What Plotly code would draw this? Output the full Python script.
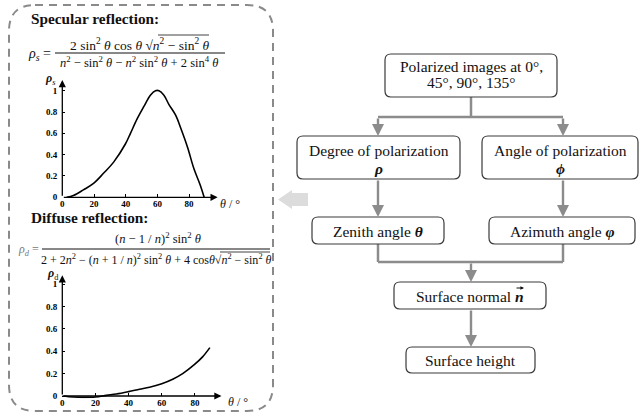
import plotly.graph_objects as go

W, H = 641, 418
SERIF = "Liberation Serif"

# ---- data ----
theta_s = [2.75, 7, 13.3, 19.7, 26, 32.4, 39.8, 43, 47.2, 51.4, 55.7, 58.8, 61, 64, 67.3, 71.5, 74.7, 79, 83, 87, 89.5]
rho_s = [0, 0.016, 0.069, 0.13, 0.225, 0.33, 0.5, 0.6, 0.735, 0.85, 0.96, 1.0, 1.0, 0.96, 0.87, 0.77, 0.65, 0.47, 0.27, 0.116, 0]
theta_d = [0, 6.6, 12.6, 20, 26.6, 32.6, 40, 46.6, 52.6, 60, 66.6, 72.6, 79.6, 84.6, 89]
rho_d = [0, -0.009, -0.012, -0.009, 0.006, 0.018, 0.039, 0.06, 0.078, 0.11, 0.15, 0.2, 0.28, 0.35, 0.433]
x_ticks = [0, 20, 40, 60, 80]
y_ticks = [0, 0.2, 0.4, 0.6, 0.8, 1]
y_tick_labels = ["0", "0.2", "0.4", "0.6", "0.8", "1"]


def X(px):
    return px / W


def Y(py):
    return 1 - py / H


fig = go.Figure()
fig.add_trace(go.Scatter(x=theta_s, y=rho_s, mode="lines", line=dict(color="black", width=1.6, shape="spline"),
                         xaxis="x", yaxis="y", showlegend=False, hoverinfo="skip"))
fig.add_trace(go.Scatter(x=theta_d, y=rho_d, mode="lines", line=dict(color="black", width=1.6, shape="spline"),
                         xaxis="x2", yaxis="y2", showlegend=False, hoverinfo="skip"))

# plot 1 geometry (pixels)
p1_x0, p1_xs = 62.3, 1.585
p1_y0, p1_ys = 197.3, 106.6
p1_xr = [0, 98]
p1_yr = [0, 1.1]
# plot 2 geometry
p2_x0, p2_xs = 62.3, 1.658
p2_y0, p2_ys = 396.0, 111.7
p2_xr = [0, 96]
p2_yr = [-0.02, 1.08]

tickfont = dict(family=SERIF, size=9, color="black", weight="bold")


def axes(x0, xs, y0, ys, xr, yr):
    xd = [X(x0 + xr[0] * xs), X(x0 + xr[1] * xs)]
    yd = [Y(y0 - yr[0] * ys), Y(y0 - yr[1] * ys)]
    xa = dict(range=xr, domain=xd, anchor="free", position=Y(y0), showgrid=False, zeroline=False,
              showline=False, ticks="inside", ticklen=3, tickwidth=1, tickcolor="black", automargin=False,
              tickvals=x_ticks, ticktext=[str(v) for v in x_ticks], tickfont=tickfont)
    ya = dict(range=yr, domain=yd, showgrid=False, zeroline=False, showline=False, automargin=False,
              ticks="inside", ticklen=3, tickwidth=1, tickcolor="black",
              tickvals=y_ticks, ticktext=y_tick_labels, tickfont=tickfont, ticklabelstandoff=4)
    return xa, ya


xa1, ya1 = axes(p1_x0, p1_xs, p1_y0, p1_ys, p1_xr, p1_yr)
xa2, ya2 = axes(p2_x0, p2_xs, p2_y0, p2_ys, p2_xr, p2_yr)
ya1["anchor"] = "x"
ya2["anchor"] = "x2"

fig.update_layout(
    template="none",
    width=W, height=H, margin=dict(l=0, r=0, t=0, b=0, pad=0, autoexpand=False),
    paper_bgcolor="white", plot_bgcolor="rgba(0,0,0,0)",
    xaxis=xa1, yaxis=ya1, xaxis2=xa2, yaxis2=ya2,
    showlegend=False,
)

ann = []
shapes = []

# axis arrows
for xr_, yr_, xref, yref in [(p1_xr, p1_yr, "x", "y"), (p2_xr, p2_yr, "x2", "y2")]:
    ann.append(dict(x=xr_[1], y=0, ax=0, ay=0, xref=xref, yref=yref, axref=xref, ayref=yref, text="",
                    showarrow=True, arrowhead=2, arrowsize=1.1, arrowwidth=1.3, arrowcolor="black"))
    ann.append(dict(x=0, y=yr_[1], ax=0, ay=0, xref=xref, yref=yref,
                    axref=xref, ayref=yref, text="",
                    showarrow=True, arrowhead=2, arrowsize=1.1, arrowwidth=1.3, arrowcolor="black"))


def text(px, py, s, size=15.5, xanchor="center", color="#111", family=SERIF):
    ann.append(dict(x=X(px), y=Y(py), xref="paper", yref="paper", text=s, showarrow=False,
                    xanchor=xanchor, yanchor="middle", font=dict(family=family, size=size, color=color)))


def line(x0, y0, x1, y1, color="#8c8c8c", width=2.5):
    shapes.append(dict(type="line", xref="paper", yref="paper", x0=X(x0), y0=Y(y0), x1=X(x1), y1=Y(y1),
                       line=dict(color=color, width=width)))


def arrow(x, y0, y1):
    ann.append(dict(x=X(x), y=Y(y1), ax=0, ay=-(y1 - y0), xref="paper", yref="paper", text="",
                    showarrow=True, arrowhead=2, arrowsize=1.0, arrowwidth=2.4, arrowcolor="#8c8c8c"))


def rrect_path(x0, y0, x1, y1, r):
    pts = [
        ("M", [(x0 + r, y0)]), ("L", [(x1 - r, y0)]), ("Q", [(x1, y0), (x1, y0 + r)]),
        ("L", [(x1, y1 - r)]), ("Q", [(x1, y1), (x1 - r, y1)]), ("L", [(x0 + r, y1)]),
        ("Q", [(x0, y1), (x0, y1 - r)]), ("L", [(x0, y0 + r)]), ("Q", [(x0, y0), (x0 + r, y0)]),
    ]
    s = ""
    for cmd, ps in pts:
        s += cmd + " " + " ".join(f"{X(a):.5f},{Y(b):.5f}" for a, b in ps) + " "
    return s + "Z"


def box(x0, y0, x1, y1, r=6):
    shapes.append(dict(type="path", xref="paper", yref="paper", path=rrect_path(x0, y0, x1, y1, r),
                       line=dict(color="#3a3a3a", width=1.2), fillcolor="white", layer="above"))


# dashed frame
shapes.append(dict(type="path", xref="paper", yref="paper", path=rrect_path(9, 5, 273, 411, 26),
                   line=dict(color="#8a8a8a", width=2, dash="8px,6px"), fillcolor="rgba(0,0,0,0)"))

# big grey arrow
ga = [(278, 199.5), (292, 190), (292, 193), (308, 193), (308, 206), (292, 206), (292, 209)]
shapes.append(dict(type="path", xref="paper", yref="paper",
                   path="M " + " L ".join(f"{X(a):.5f},{Y(b):.5f}" for a, b in ga) + " Z",
                   line=dict(width=0), fillcolor="#dcdcdc"))

# left panel texts
text(29, 18, "<b>Specular reflection:</b>", size=15.3, xanchor="left")
text(29, 218, "<b>Diffuse reflection:</b>", size=15.3, xanchor="left")

# formula 1
text(53, 54, "<i>ρ<sub>s</sub></i> =", size=14, xanchor="right")
text(140, 44, "2 sin<sup>2</sup> <i>θ</i> cos <i>θ</i> √<i>n</i><sup>2</sup> − sin<sup>2</sup> <i>θ</i>", size=13.5)
line(55, 53, 225, 53, color="#111", width=1)
text(139, 62, "<i>n</i><sup>2</sup> − sin<sup>2</sup> <i>θ</i> − <i>n</i><sup>2</sup> sin<sup>2</sup> <i>θ</i> + 2 sin<sup>4</sup> <i>θ</i>", size=12.5)
line(158, 35, 209, 35, color="#111", width=0.8)

# formula 2
text(41, 250, "<i>ρ<sub>d</sub></i> =", size=12, xanchor="right", color="#777")
text(157.5, 238, "(<i>n</i> − 1 / <i>n</i>)<sup>2</sup> sin<sup>2</sup> <i>θ</i>", size=12.5)
line(42, 249, 270, 249, color="#111", width=1)
text(156.5, 259, "2 + 2<i>n</i><sup>2</sup> − (<i>n</i> + 1 / <i>n</i>)<sup>2</sup> sin<sup>2</sup> <i>θ</i> + 4 cos<i>θ</i>√<i>n</i><sup>2</sup> − sin<sup>2</sup> <i>θ</i>", size=12)
line(220, 252, 270, 252, color="#111", width=0.8)

# axis titles
text(50, 79, "<b><i>ρ</i></b><sub><i>s</i></sub>", size=12)
text(230, 204, "<i>θ</i> / °", size=12)
text(53, 274, "<b><i>ρ</i></b><sub>d</sub>", size=12)
text(238, 402, "<i>θ</i> / °", size=12)

# flowchart connectors
line(471, 97, 471, 117)
line(378, 117, 563, 117)
arrow(378, 117, 136)
arrow(563, 117, 136)
arrow(378, 179, 217)
arrow(563, 179, 217)
line(378, 244, 378, 262)
line(563, 244, 563, 262)
line(378, 262, 563, 262)
arrow(471, 262, 282)
arrow(471, 309, 347)

# boxes
box(385, 54, 557, 97)
box(297, 136, 460, 179)
box(482, 136, 638, 179)
box(312, 217, 444, 244)
box(489, 217, 635, 244)
box(394, 282, 546, 309)
box(406, 347, 535, 373)

text(471, 66, "Polarized images at 0°,")
text(471, 83, "45°, 90°, 135°")
text(378.5, 150, "Degree of polarization")
text(378.5, 168, "<b><i>ρ</i></b>")
text(560, 150, "Angle of polarization")
text(560, 168, "<b><i>ϕ</i></b>")
text(378, 231, "Zenith angle <b><i>θ</i></b>")
text(562, 231, "Azimuth angle <b><i>φ</i></b>")
text(470, 296, "Surface normal <b><i>n</i></b>")
text(470.5, 360, "Surface height")
# vector arrow over n
ann.append(dict(x=X(524), y=Y(288), ax=-9, ay=0, xref="paper", yref="paper", text="",
                showarrow=True, arrowhead=2, arrowsize=0.6, arrowwidth=1.2, arrowcolor="#111"))

fig.update_layout(annotations=ann, shapes=shapes)
fig.write_html("out.html", config={"displayModeBar": False},
               post_script="document.body.style.margin='0';document.body.style.overflow='hidden';")
